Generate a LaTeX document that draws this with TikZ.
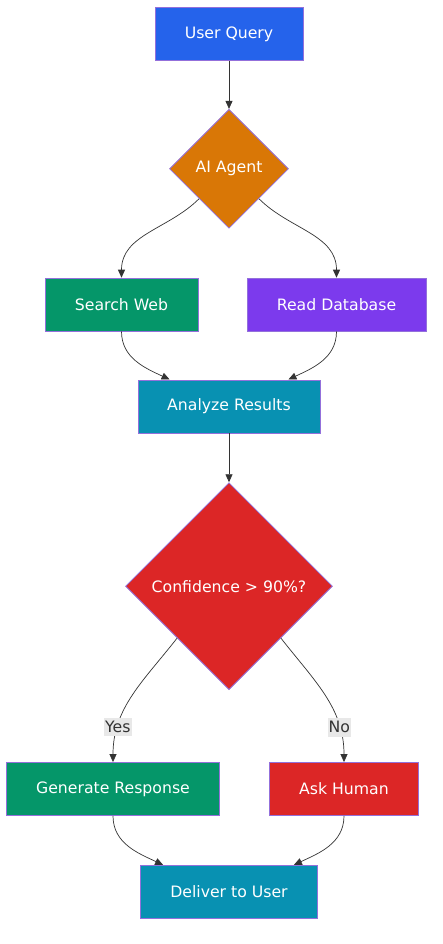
\documentclass[tikz,border=0pt]{standalone}
\usepackage{fontspec}
\setmainfont{DejaVu Sans}
\usetikzlibrary{shapes.geometric,arrows.meta,positioning,calc}

\definecolor{qblue}{HTML}{2563EB}
\definecolor{agentorange}{HTML}{D97706}
\definecolor{webgreen}{HTML}{059669}
\definecolor{dbpurple}{HTML}{7C3AED}
\definecolor{resteal}{HTML}{0891B2}
\definecolor{alertred}{HTML}{DC2626}
\definecolor{rim}{HTML}{9370DB}
\definecolor{ink}{HTML}{333333}
\definecolor{tag}{HTML}{E8E8E8}

\begin{document}
\begin{tikzpicture}[x=1pt, y=-1pt, node distance = 1cm,
  every node/.style={font=\fontsize{15.7}{18}\selectfont},
  box/.style={draw=rim, line width=0.8pt, text=white, minimum height=53pt, inner sep=0pt},
  decision/.style={diamond, draw=rim, line width=0.8pt, text=white, inner sep=0pt, aspect=1},
  arr/.style={draw=ink, line width=0.7pt, -{Triangle[length=8pt,width=7pt]}},
  lbl/.style={fill=tag, text=ink, inner xsep=1pt, inner ysep=3.5pt}]
\useasboundingbox (0,0) rectangle (442,944);

\node[box, fill=qblue, minimum width=148pt] (query) at (229,34) {User Query};
\node[decision, fill=agentorange, minimum size=119pt, below = 48pt of query] (agent) {AI Agent};
\node[box, fill=webgreen, minimum width=153pt, below = 49pt of agent.south, xshift=-107.5pt] (web) {Search Web};
\node[box, fill=dbpurple, minimum width=179pt, below = 49pt of agent.south, xshift=107.5pt] (db) {Read Database};
\node[box, fill=resteal, minimum width=182pt, below = 48pt of web.south, xshift=107.5pt] (analyze) {Analyze Results};
\node[decision, fill=alertred, minimum size=207pt, below = 49pt of analyze] (conf) {Confidence > 90\%?};
\node[box, fill=webgreen, minimum width=213pt, below = 72pt of conf.south, xshift=-116pt] (gen) {Generate Response};
\node[box, fill=alertred, minimum width=149pt, below = 72pt of conf.south, xshift=115pt] (ask) {Ask Human};
\node[box, fill=resteal, minimum width=177pt, below = 49pt of gen.south, xshift=116pt] (deliver) {Deliver to User};

\path[arr] (query) -- (agent);
\path[arr] (agent.south west) to[out=-135, in=90] (web.north);
\path[arr] (agent.south east) to[out=-45, in=90] (db.north);
\path[arr] (web.south) to[out=-90, in=155] ([xshift=32pt]analyze.north west);
\path[arr] (db.south) to[out=-90, in=25] ([xshift=-32pt]analyze.north east);
\path[arr] (analyze) -- (conf);
\path[arr] (conf.south west) to[out=-128, in=90] node[lbl, pos=0.76] {Yes} (gen.north);
\path[arr] (conf.south east) to[out=-52, in=90] node[lbl, pos=0.76] {No} (ask.north);
\path[arr] (gen.south) to[out=-90, in=155] ([xshift=23pt]deliver.north west);
\path[arr] (ask.south) to[out=-90, in=25] ([xshift=-24pt]deliver.north east);
\end{tikzpicture}
\end{document}
